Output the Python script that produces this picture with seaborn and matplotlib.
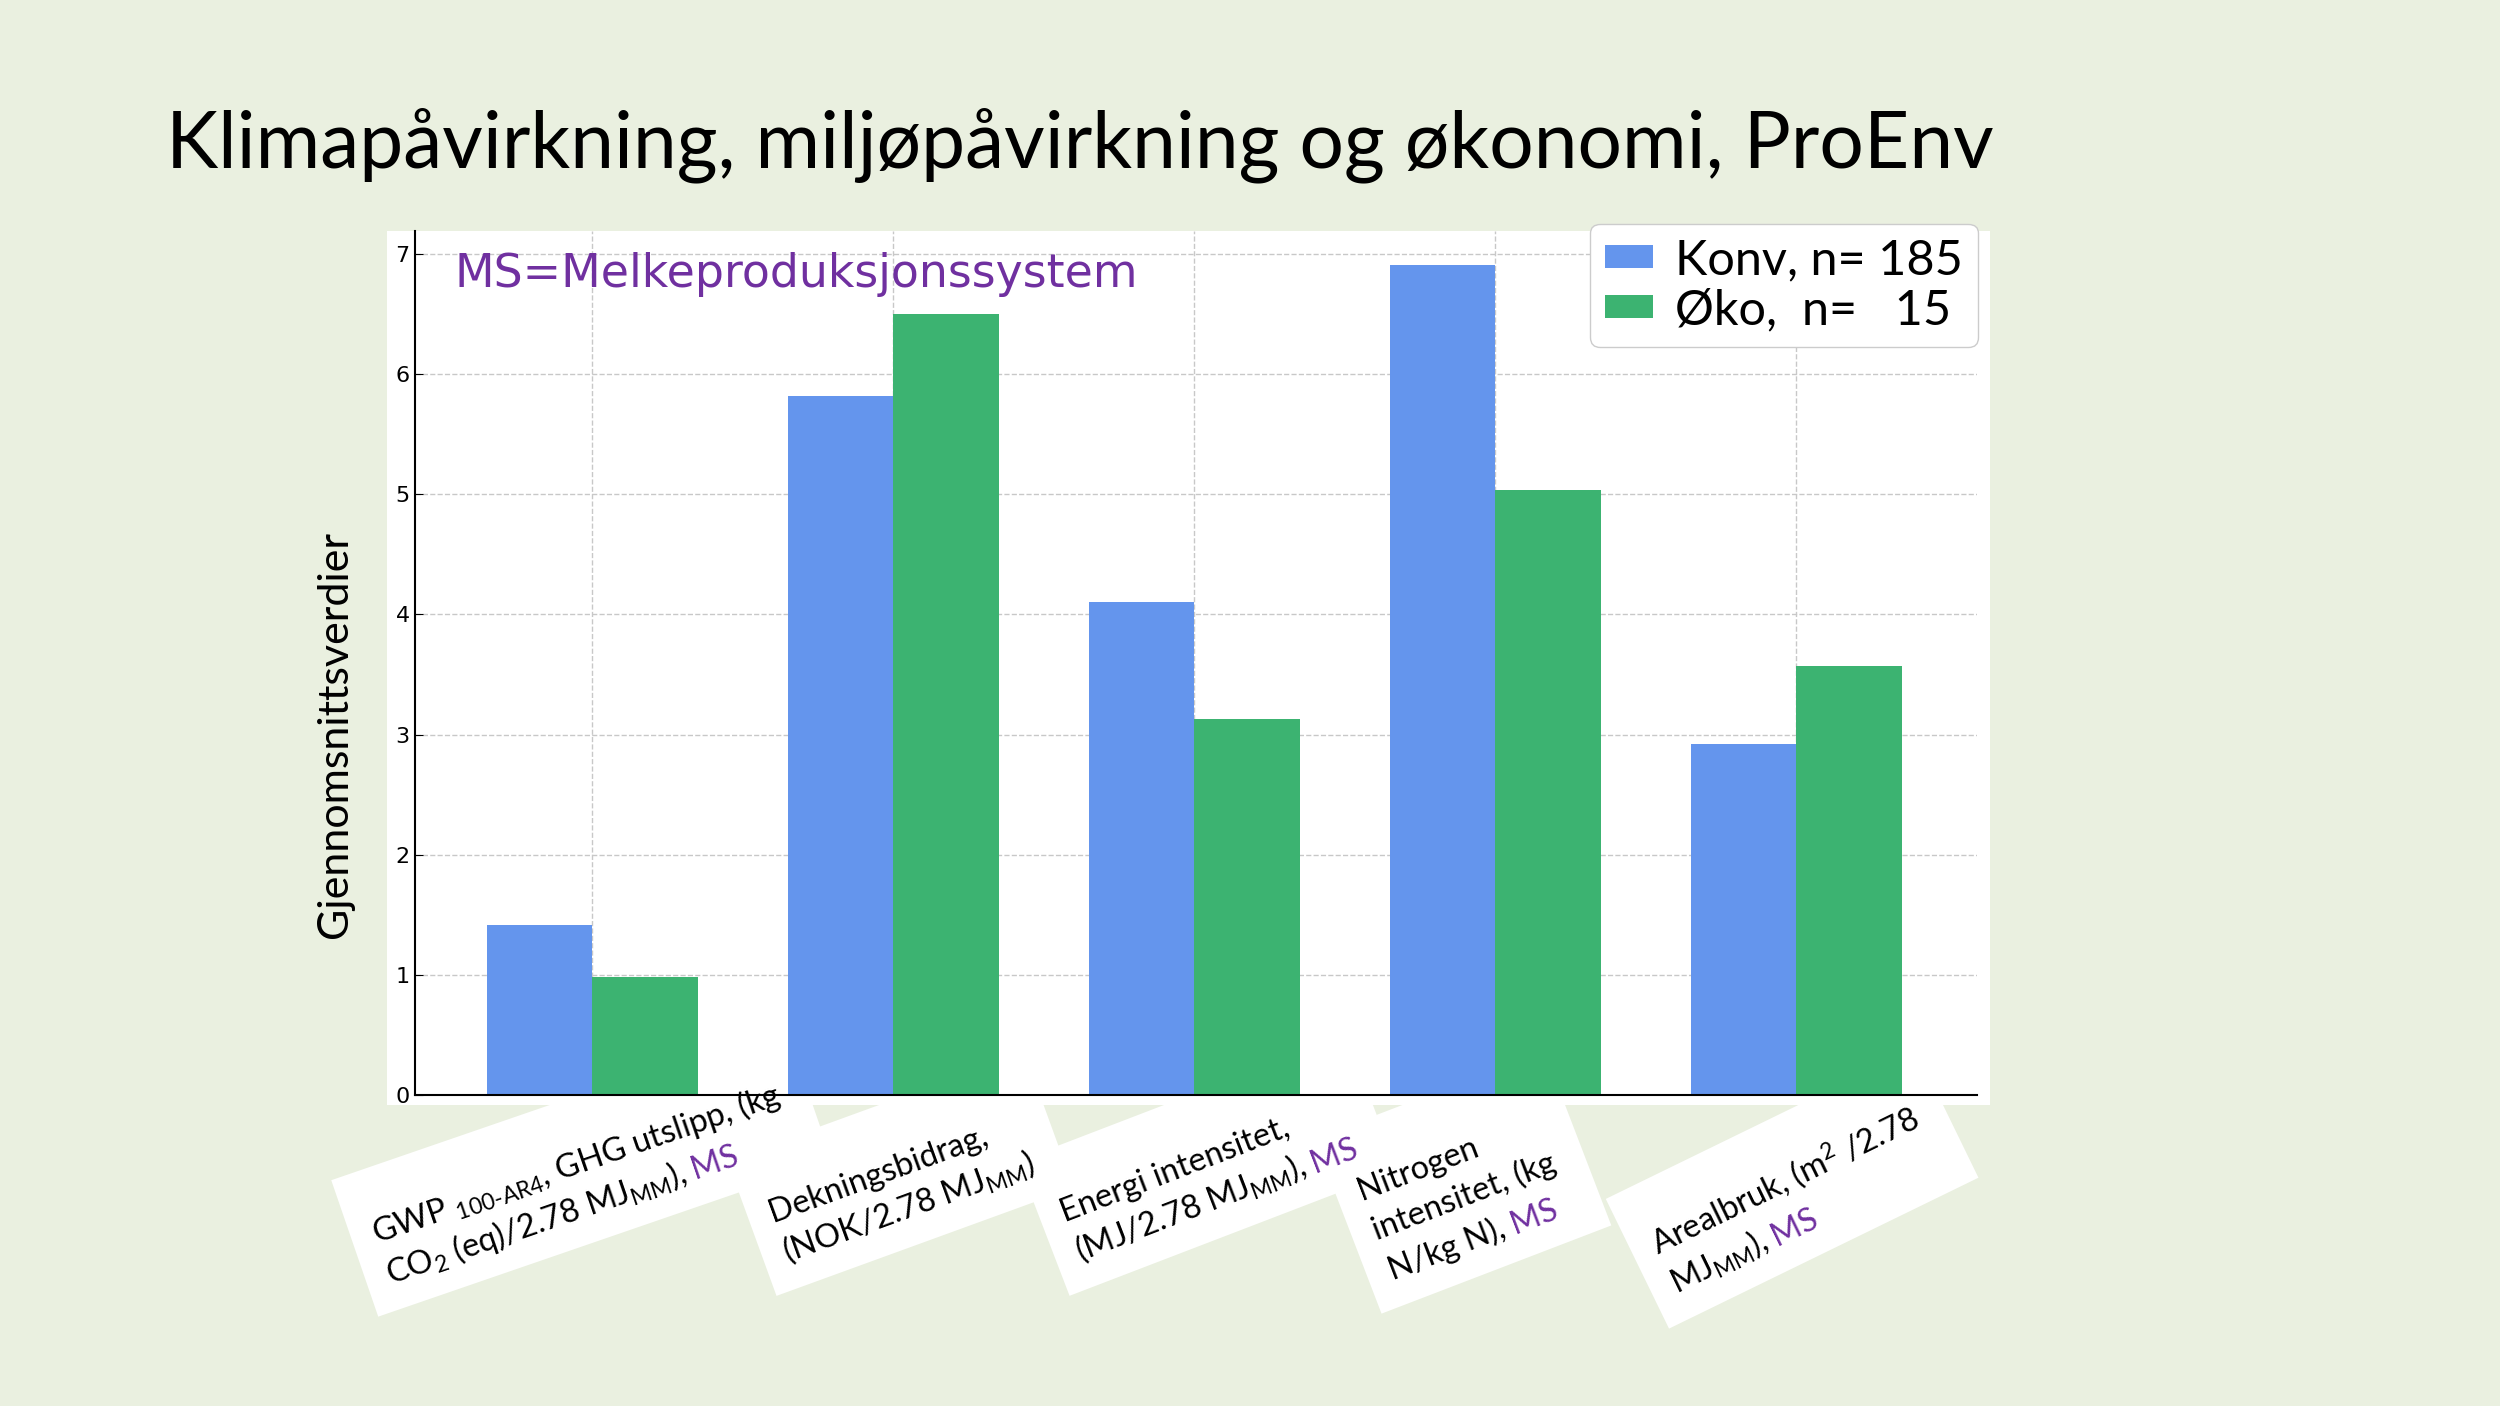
import matplotlib
matplotlib.use('Agg')
import matplotlib.pyplot as plt
import numpy as np
import pandas as pd
import seaborn as sns
from matplotlib.patches import Polygon, Rectangle

# data
categories = ['GWP', 'Dekningsbidrag', 'Energi', 'Nitrogen', 'Arealbruk']
konv = [1.42, 5.82, 4.10, 6.91, 2.92]
oko = [0.98, 6.50, 3.13, 5.04, 3.57]
series = ['Konv, n= 185', 'Øko,  n=   15']
yticks = [0, 1, 2, 3, 4, 5, 6, 7]

# two-colour tick labels: list of lines, each line a list of (text, colour)
tick_lines = [
    [[(r'GWP $_{\text{100-AR4}}$, GHG utslipp, (kg', 'k')],
     [(r'CO$_{\text{2}}$ (eq)/2.78 MJ$_{\text{MM}}$), ', 'k'), ('MS', '#7030A0')]],
    [[('Dekningsbidrag,', 'k')],
     [(r'(NOK/2.78 MJ$_{\text{MM}}$)', 'k')]],
    [[('Energi intensitet,', 'k')],
     [(r'(MJ/2.78 MJ$_{\text{MM}}$), ', 'k'), ('MS', '#7030A0')]],
    [[('Nitrogen', 'k')],
     [('intensitet, (kg', 'k')],
     [('N/kg N), ', 'k'), ('MS', '#7030A0')]],
    [[(r'Arealbruk, (m$^{\text{2}}$ /2.78', 'k')],
     [(r'MJ$_{\text{MM}}$), ', 'k'), ('MS', '#7030A0')]],
]
# left end of the first baseline, in reference pixels (1568 x 882 view)
label_starts = [(236, 780), (485, 767), (668, 767), (854, 753), (1040, 788)]
label_angles = [19, 20, 21, 21, 26]

BLUE = 'cornflowerblue'
GREEN = 'mediumseagreen'
PURPLE = '#7030A0'
BG = '#EAF0E0'
FONT = 'Lato'

plt.rcParams['mathtext.fontset'] = 'custom'
plt.rcParams['mathtext.rm'] = FONT
plt.rcParams['mathtext.it'] = FONT + ':italic'
plt.rcParams['mathtext.bf'] = FONT + ':bold'

df = pd.DataFrame({
    'Kategori': categories * 2,
    'Verdi': konv + oko,
    'System': [series[0]] * len(categories) + [series[1]] * len(categories),
})

W, H = 2500, 1406
fig = plt.figure(figsize=(W / 100, H / 100), dpi=100, facecolor=BG)
sx = W / 1568
sy = H / 882


def fx(px):
    return px / 1568


def fy(py):
    return 1 - py / 882


# white card behind the plot area (incl. y tick labels)
fig.patches.append(Rectangle((fx(243), fy(693)), fx(1248) - fx(243), fy(145) - fy(693),
                             facecolor='white', edgecolor='none',
                             transform=fig.transFigure, figure=fig, zorder=0))

ax = fig.add_axes([fx(260), fy(687), fx(1240) - fx(260), fy(145) - fy(687)])
ax.set_zorder(2)
ax.set_facecolor('white')
sns.barplot(data=df, x='Kategori', y='Verdi', hue='System', palette=[BLUE, GREEN],
            width=0.7, saturation=1, ax=ax, legend=True)
ax.set_ylim(0, 7.19)
ax.set_xlim(-0.59, 4.6)
ax.set_yticks(yticks)
ax.set_xlabel('')
ax.set_ylabel('')
ax.set_axisbelow(True)
ax.grid(True, linestyle='--', color='#c8c8c8', linewidth=1)
for s in ['top', 'right']:
    ax.spines[s].set_visible(False)
for s in ['left', 'bottom']:
    ax.spines[s].set_color('black')
    ax.spines[s].set_linewidth(1.5)
ax.tick_params(axis='both', direction='in', length=6, labelsize=16, colors='black')
ax.set_xticks(range(len(categories)))
ax.set_xticklabels([''] * len(categories))
for lab in ax.get_yticklabels():
    lab.set_fontfamily('DejaVu Sans')

handles, _ = ax.get_legend_handles_labels()
leg = ax.legend(handles, series, loc='upper left', bbox_to_anchor=(fx(982), fy(125)),
                bbox_transform=fig.transFigure, prop={'family': FONT, 'size': 35},
                frameon=True, framealpha=1, edgecolor='#cccccc', fancybox=True,
                handlelength=1.0, handleheight=0.35, handletextpad=0.45,
                labelspacing=0.12, borderpad=0.3)

fig.text(fx(104), fy(105), 'Klimapåvirkning, miljøpåvirkning og økonomi, ProEnv',
         fontsize=56.6, family=FONT, va='baseline', ha='left', color='black', zorder=3)
fig.text(fx(285), fy(172), 'MS=Melkeproduksjonssystem', fontsize=33,
         family='DejaVu Sans', color=PURPLE, va='center', ha='left', zorder=3)
fig.text(fx(210), fy(461), 'Gjennomsnittsverdier', fontsize=31, family=FONT,
         rotation=90, va='center', ha='center', zorder=3)

# rotated multi-colour tick labels on white cards (below the axes)
renderer = fig.canvas.get_renderer()
size = 23.5
line_h = 43


def text_width(txt):
    # measure with a guard character so trailing spaces count
    t = fig.text(0, 0, txt + '|', fontsize=size, family=FONT)
    g = fig.text(0, 0, '|', fontsize=size, family=FONT)
    w = t.get_window_extent(renderer).width - g.get_window_extent(renderer).width
    t.remove()
    g.remove()
    return w


for lines, (lx, ly), ang in zip(tick_lines, label_starts, label_angles):
    theta = np.deg2rad(ang)
    u = np.array([np.cos(theta), np.sin(theta)])
    n = np.array([np.sin(theta), -np.cos(theta)])
    s0 = np.array([lx * sx, H - ly * sy])
    widths = [[text_width(txt) for txt, _ in line] for line in lines]
    nl = len(lines)
    maxw = max(sum(w) for w in widths)
    a0, a1 = -22, maxw + 30
    b0, b1 = -(0.8 * line_h + 40), (nl - 1) * line_h + 0.3 * line_h + 14
    corners = [s0 + a0 * u + b0 * n, s0 + a1 * u + b0 * n,
               s0 + a1 * u + b1 * n, s0 + a0 * u + b1 * n]
    fig.patches.append(Polygon([(p[0] / W, p[1] / H) for p in corners], closed=True,
                               facecolor='white', edgecolor='none',
                               transform=fig.transFigure, figure=fig, zorder=0))
    for i, (line, segw) in enumerate(zip(lines, widths)):
        start = s0 + i * line_h * n
        off = 0
        for (txt, col), w in zip(line, segw):
            p = start + off * u
            fig.text(p[0] / W, p[1] / H, txt, fontsize=size, family=FONT, color=col,
                     rotation=ang, rotation_mode='anchor', ha='left', va='baseline', zorder=3)
            off += w

fig.savefig('out.png', dpi=100, facecolor=BG)
